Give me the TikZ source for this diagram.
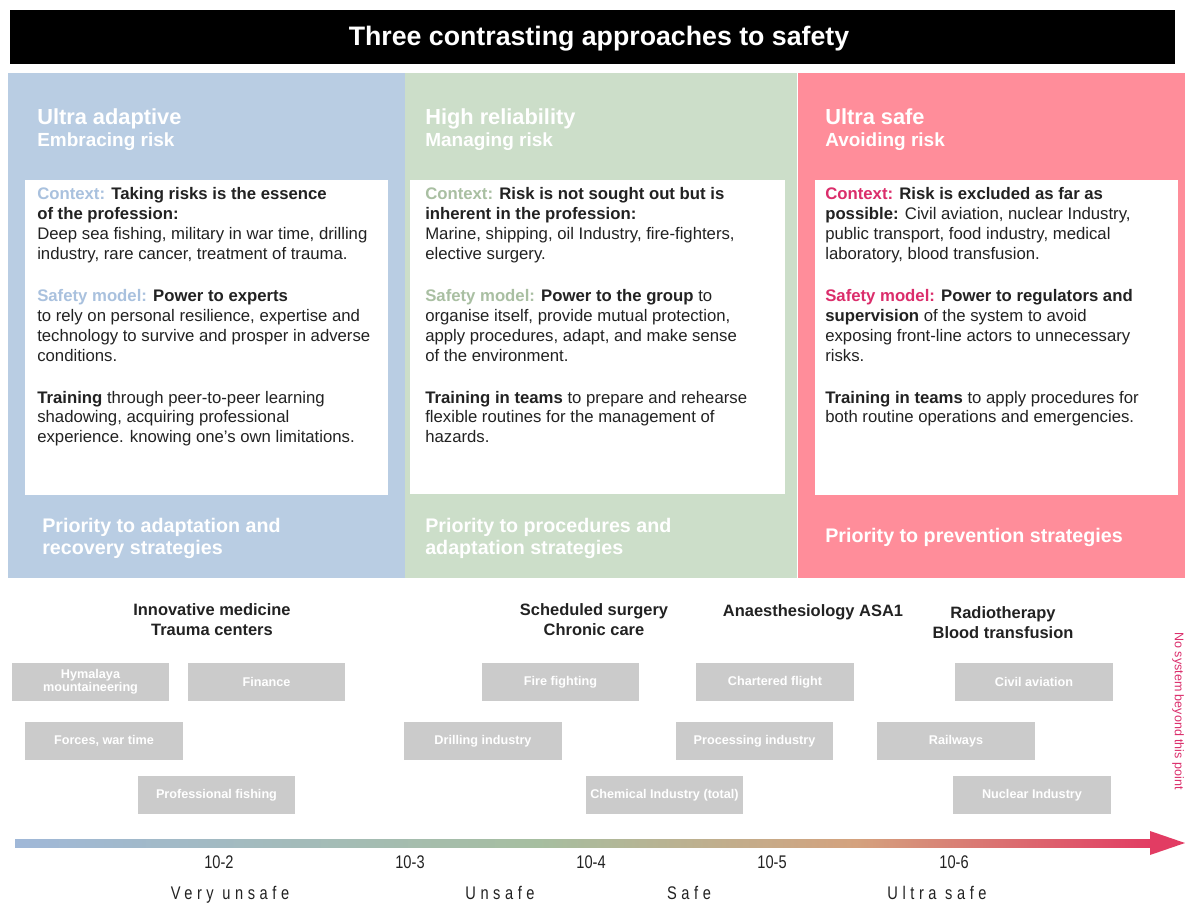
\documentclass[tikz,border=0pt]{standalone}
\usepackage{fontspec}
\setmainfont{Liberation Sans}
\newfontfamily\axisnumfont[FakeStretch=0.8]{Liberation Sans}
\newfontfamily\axiswordfont[FakeStretch=0.8, LetterSpace=25]{Liberation Sans}
\usetikzlibrary{positioning}
\definecolor{adaptblue}{HTML}{B9CDE3}
\definecolor{reliablegreen}{HTML}{CCDEC9}
\definecolor{safepink}{HTML}{FF8D9A}
\definecolor{ctxblue}{HTML}{A9C1DE}
\definecolor{ctxgreen}{HTML}{A9BFA2}
\definecolor{ctxpink}{HTML}{DB2D6B}
\definecolor{inkgrey}{HTML}{222222}
\definecolor{boxgrey}{HTML}{CBCBCB}
\definecolor{axisblue}{HTML}{A0B8D8}
\definecolor{axisgreen}{HTML}{A6BEA0}
\definecolor{axistan}{HTML}{D4A27E}
\definecolor{axisred}{HTML}{E23C63}
\pgfdeclarehorizontalshading{safetyaxis}{100bp}{color(0bp)=(axisblue); color(25bp)=(axisblue); color(48bp)=(axisgreen); color(62bp)=(axistan); color(75bp)=(axisred); color(100bp)=(axisred)}

\tikzset{
  titletext/.style={anchor=base, text=white, font=\fontsize{19}{22}\selectfont\bfseries, inner sep=0pt},
  colhead/.style={anchor=base west, text=white, font=\fontsize{15.5}{18}\selectfont\bfseries, inner sep=0pt},
  colsub/.style={anchor=base west, text=white, font=\fontsize{13.5}{16}\selectfont\bfseries, inner sep=0pt},
  bodytext/.style={anchor=north west, align=left, text=inkgrey, font=\fontsize{11.9}{14.2}\selectfont, inner sep=0pt},
  prioritytext/.style={anchor=north west, align=left, text=white, font=\fontsize{14}{15.6}\selectfont\bfseries, inner sep=0pt},
  fieldlabel/.style={align=center, text=inkgrey, font=\fontsize{11.7}{14.2}\selectfont\bfseries, inner sep=0pt},
  sysbox/.style={fill=boxgrey, text=white, font=\fontsize{9}{9.5}\selectfont\bfseries, minimum width=3.925cm, minimum height=0.95cm, inner sep=0pt, align=center},
  ticklabel/.style={anchor=base, text=inkgrey, font=\fontsize{13}{15}\axisnumfont, inner sep=0pt},
  zonelabel/.style={anchor=base, text=inkgrey, font=\fontsize{13}{15}\axiswordfont, inner sep=0pt}
}

\begin{document}
\begin{tikzpicture}[x=0.025cm, y=-0.025cm]
\useasboundingbox (0,0) rectangle (1185,905);
\fill[white] (0,0) rectangle (1185,905);

\fill[black] (10,10) rectangle (1175,64);
\node[titletext] (title) at (599,46) {Three contrasting approaches to safety};

\fill[adaptblue] (8,73) rectangle (405,578);
\fill[reliablegreen] (405,73) rectangle (797,578);
\fill[safepink] (798,73) rectangle (1185,578);

\fill[white] (25,180) rectangle (388,495);
\fill[white] (410,180) rectangle (785,494);
\fill[white] (815,180) rectangle (1178,495);

\node[colhead] (adapthead) at (37,125) {Ultra adaptive};
\node[colsub] (adaptsub) at (37,147) {Embracing risk};
\node[colhead] (reliablehead) at (425,125) {High reliability};
\node[colsub] (reliablesub) at (425,147) {Managing risk};
\node[colhead] (safehead) at (825,125) {Ultra safe};
\node[colsub] (safesub) at (825,147) {Avoiding risk};

\node[bodytext] (adaptbody) at (37,187) {%
\textcolor{ctxblue}{\textbf{Context:}} \textbf{Taking risks is the essence}\\
\textbf{of the profession:}\\
Deep sea fishing, military in war time, drilling\\
industry, rare cancer, treatment of trauma.\\[15.6pt]
\textcolor{ctxblue}{\textbf{Safety model:}} \textbf{Power to experts}\\
to rely on personal resilience, expertise and\\
technology to survive and prosper in adverse\\
conditions.\\[15.6pt]
\textbf{Training} through peer-to-peer learning\\
shadowing, acquiring professional\\
experience. knowing one's own limitations.};

\node[bodytext] (reliablebody) at (425,187) {%
\textcolor{ctxgreen}{\textbf{Context:}} \textbf{Risk is not sought out but is}\\
\textbf{inherent in the profession:}\\
Marine, shipping, oil Industry, fire-fighters,\\
elective surgery.\\[15.6pt]
\textcolor{ctxgreen}{\textbf{Safety model:}} \textbf{Power to the group} to\\
organise itself, provide mutual protection,\\
apply procedures, adapt, and make sense\\
of the environment.\\[15.6pt]
\textbf{Training in teams} to prepare and rehearse\\
flexible routines for the management of\\
hazards.};

\node[bodytext] (safebody) at (825,187) {%
\textcolor{ctxpink}{\textbf{Context:}} \textbf{Risk is excluded as far as}\\
\textbf{possible:} Civil aviation, nuclear Industry,\\
public transport, food industry, medical\\
laboratory, blood transfusion.\\[15.6pt]
\textcolor{ctxpink}{\textbf{Safety model:}} \textbf{Power to regulators and}\\
\textbf{supervision} of the system to avoid\\
exposing front-line actors to unnecessary\\
risks.\\[15.6pt]
\textbf{Training in teams} to apply procedures for\\
both routine operations and emergencies.};

\node[prioritytext] (adaptprio) at (42,518) {Priority to adaptation and\\recovery strategies};
\node[prioritytext] (reliableprio) at (425,518) {Priority to procedures and\\adaptation strategies};
\node[prioritytext] (safeprio) at (825,528) {Priority to prevention strategies};

\node[fieldlabel, anchor=north] (innovative) at (212,603) {Innovative medicine\\Trauma centers};
\node[fieldlabel, anchor=north] (scheduled) at (594,603) {Scheduled surgery\\Chronic care};
\node[fieldlabel, anchor=base] (anaesth) at (813,616) {Anaesthesiology ASA1};
\node[fieldlabel, anchor=north] (radio) at (1003,606) {Radiotherapy\\Blood transfusion};

\node[sysbox] (himalaya) at (90.5,682) {Hymalaya\\mountaineering};
\node[sysbox] (finance) at (266.5,682) {Finance};
\node[sysbox] (forces) at (104,741) {Forces, war time};
\node[sysbox] (fishing) at (216.5,795) {Professional fishing};
\node[sysbox] (firefight) at (560.5,682) {Fire fighting};
\node[sysbox] (drilling) at (483,741) {Drilling industry};
\node[sysbox] (chemical) at (664.5,795) {Chemical Industry (total)};
\node[sysbox] (charter) at (775,682) {Chartered flight};
\node[sysbox] (processing) at (754.5,741) {Processing industry};
\node[sysbox] (civil) at (1034,682) {Civil aviation};
\node[sysbox] (railways) at (956,741) {Railways};
\node[sysbox] (nuclear) at (1032,795) {Nuclear Industry};

\node[rotate=-90, text=ctxpink, font=\fontsize{8.9}{10}\selectfont, inner sep=0pt] (nosystem) at (1178,711) {No system beyond this point};

\coordinate (axisstart) at (15,843);
\coordinate (axistip) at (1185,843);
\shade[shading=safetyaxis] (15,839) rectangle (1152,847);
\fill[axisred] (1150,831) -- (axistip) -- (1150,855) -- cycle;

\node[ticklabel] (tick2) at (219,868) {10-2};
\node[ticklabel] (tick3) at (410,868) {10-3};
\node[ticklabel] (tick4) at (591,868) {10-4};
\node[ticklabel] (tick5) at (772,868) {10-5};
\node[ticklabel] (tick6) at (954,868) {10-6};

\node[zonelabel] (veryunsafe) at (230,899) {Very unsafe};
\node[zonelabel] (unsafe) at (500,899) {Unsafe};
\node[zonelabel] (safe) at (689,899) {Safe};
\node[zonelabel] (ultrasafe) at (937,899) {Ultra safe};
\end{tikzpicture}
\end{document}
